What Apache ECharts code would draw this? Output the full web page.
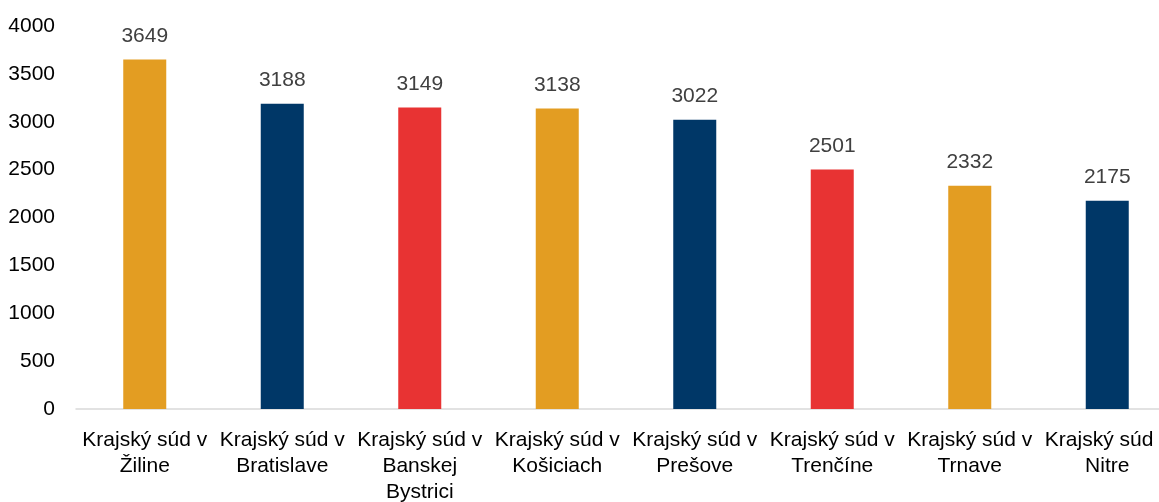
<!DOCTYPE html>
<html>
<head>
<meta charset="utf-8">
<script src="https://cdn.jsdelivr.net/npm/echarts@6/dist/echarts.min.js"></script>
<style>
  html, body { margin: 0; padding: 0; background: #fff; }
  #chart { width: 1159px; height: 502px; }
</style>
</head>
<body>
<div id="chart"></div>
<script>
// data
var courts = [
    'Krajský súd v\nŽiline',
    'Krajský súd v\nBratislave',
    'Krajský súd v\nBanskej\nBystrici',
    'Krajský súd v\nKošiciach',
    'Krajský súd v\nPrešove',
    'Krajský súd v\nTrenčíne',
    'Krajský súd v\nTrnave',
    'Krajský súd v\nNitre'
];
var cases = [3649, 3188, 3149, 3138, 3022, 2501, 2332, 2175];
var barColors = ['#E39D22', '#003767', '#E83333', '#E39D22', '#003767', '#E83333', '#E39D22', '#003767'];

var font = '"Liberation Sans Narrow", "Liberation Sans", Arial, sans-serif';

var chart = echarts.init(document.getElementById('chart'));

chart.setOption({
    animation: false,
    grid: { left: 76, right: -17, top: 26, bottom: 93, containLabel: false, outerBoundsMode: 'none' },
    xAxis: {
        type: 'category',
        data: courts,
        axisLine: { lineStyle: { color: '#d9d9d9', width: 1.5 } },
        axisTick: { show: false },
        axisLabel: {
            interval: 0,
            color: '#000',
            fontFamily: font,
            fontSize: 21,
            lineHeight: 26,
            margin: 18,
            overflow: 'none',
            width: 200
        }
    },
    yAxis: {
        type: 'value',
        min: 0,
        max: 4000,
        interval: 500,
        axisLine: { show: false },
        axisTick: { show: false },
        splitLine: { show: false },
        axisLabel: {
            color: '#000',
            fontFamily: font,
            fontSize: 21,
            margin: 21,
            formatter: function (v) { return String(v); }
        }
    },
    series: [{
        type: 'bar',
        barWidth: 43,
        data: cases.map(function (v, i) {
            return { value: v, itemStyle: { color: barColors[i] } };
        }),
        label: {
            show: true,
            position: 'top',
            distance: 13,
            color: '#404040',
            fontFamily: font,
            fontSize: 21
        }
    }]
});
</script>
</body>
</html>
